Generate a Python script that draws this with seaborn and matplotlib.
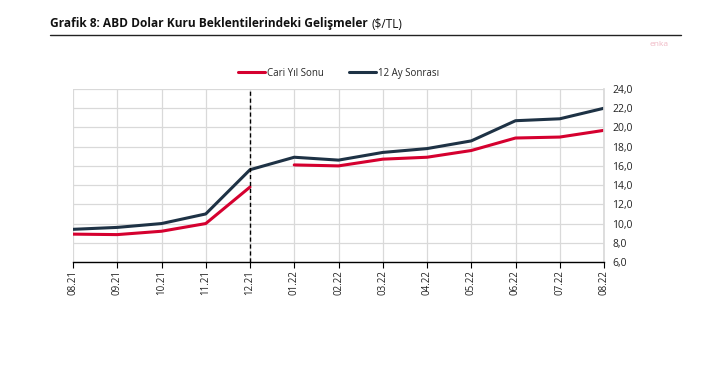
import matplotlib
matplotlib.use("Agg")
import matplotlib.pyplot as plt
import seaborn as sns
import pandas as pd
import numpy as np

months = ["08.21", "09.21", "10.21", "11.21", "12.21", "01.22", "02.22",
          "03.22", "04.22", "05.22", "06.22", "07.22", "08.22"]
cari_2021 = [8.9, 8.85, 9.2, 10.0, 13.8]
cari_2022 = [16.1, 16.0, 16.7, 16.9, 17.6, 18.9, 19.0, 19.7]
ay12 = [9.4, 9.6, 10.0, 11.0, 15.6, 16.9, 16.6, 17.4, 17.8, 18.6, 20.7, 20.9, 22.0]
yticks = [6, 8, 10, 12, 14, 16, 18, 20, 22, 24]

RED = "#D5002F"
NAVY = "#1E3245"

sns.set_theme(style="white")
plt.rcParams['font.family'] = ['Open Sans', 'DejaVu Sans']

fig = plt.figure(figsize=(7.04, 3.79), dpi=100)
ax = fig.add_axes([73/704, 1-262/379, (604-73)/704, (262-89)/379])

x = np.arange(len(months))
df_red1 = pd.DataFrame({"x": x[:5], "v": cari_2021})
df_red2 = pd.DataFrame({"x": x[5:], "v": cari_2022})
df_nav = pd.DataFrame({"x": x, "v": ay12})

sns.lineplot(data=df_red1, x="x", y="v", color=RED, lw=2.2, ax=ax, label="Cari Yıl Sonu")
sns.lineplot(data=df_red2, x="x", y="v", color=RED, lw=2.2, ax=ax)
sns.lineplot(data=df_nav, x="x", y="v", color=NAVY, lw=2.2, ax=ax, label="12 Ay Sonrası")

ax.axvline(4, color="black", ls=(0, (3, 2)), lw=1.0, zorder=5)

ax.set_xlim(0, len(months)-1)
ax.set_ylim(6, 24)
ax.set_xticks(x)
ax.set_xticklabels(months, rotation=90, fontsize=7, color="#222222")
ax.set_yticks(yticks)
ax.set_yticklabels([f"{v:.1f}".replace(".", ",") for v in yticks], fontsize=7.5, color="#222222")
ax.yaxis.tick_right()
ax.set_xlabel("")
ax.set_ylabel("")
ax.grid(True, color="#D9D9D9", lw=0.9)
ax.set_axisbelow(True)
for s in ["top", "left"]:
    ax.spines[s].set_visible(False)
ax.spines["right"].set_color("#D9D9D9")
ax.spines["bottom"].set_color("black")
ax.spines["bottom"].set_linewidth(1.0)
ax.tick_params(axis="x", bottom=True, length=4, width=0.8, color="black", pad=2)
ax.tick_params(axis="y", right=False, length=0, pad=6)

leg = ax.legend(loc="lower center", bbox_to_anchor=(0.5, 1.01), ncol=2, frameon=False,
                fontsize=7, handlelength=2.8, columnspacing=2.5, handletextpad=0.2)

t1 = fig.text(50/704, 1-24/379, "Grafik 8: ABD Dolar Kuru Beklentilerindeki Gelişmeler",
              fontsize=8.6, fontweight="bold", color="#111111", va="center", ha="left")
fig.canvas.draw()
bb = t1.get_window_extent(renderer=fig.canvas.get_renderer())
fig.text(bb.x1/fig.bbox.width + 4/704, 1-24/379, "($/TL)", fontsize=8.6, color="#111111",
         va="center", ha="left")
fig.add_artist(plt.Line2D([50/704, 681/704], [1-35/379, 1-35/379], color="#222222", lw=1.0))
fig.text(668/704, 1-44/379, "enka", fontsize=6, color="#F0B8C4", ha="right", va="center")

fig.savefig("out.png", dpi=100)
